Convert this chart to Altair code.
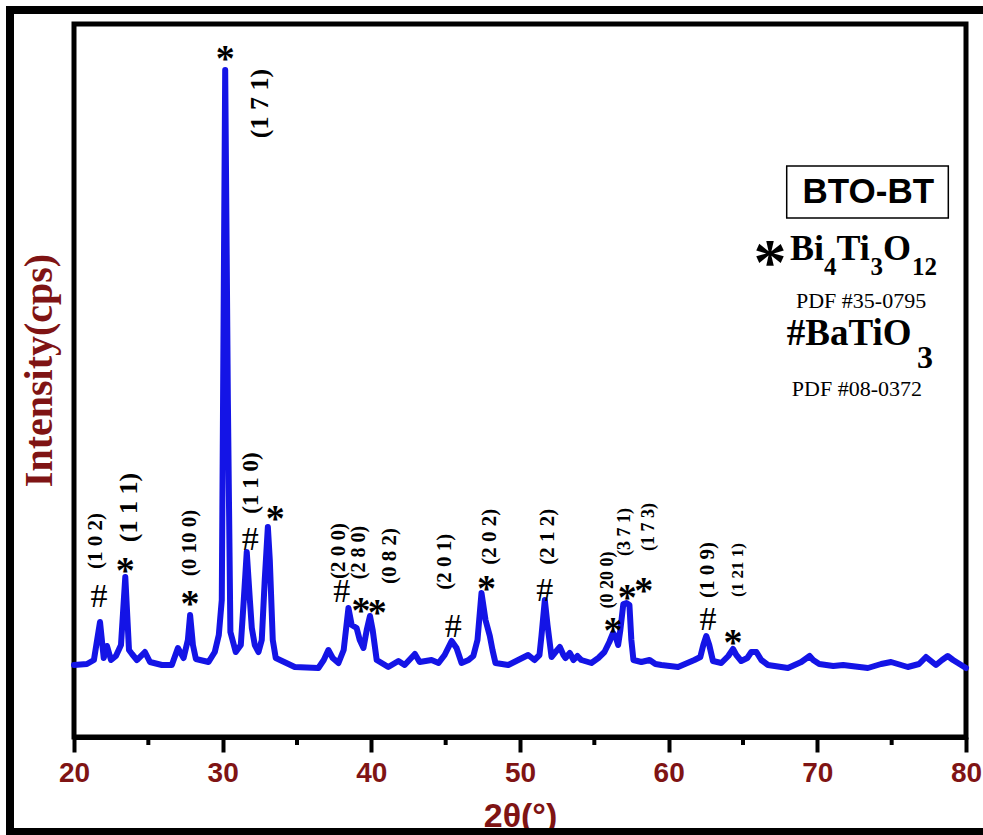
import altair as alt
import pandas as pd

# ---------------- data ----------------
two_theta = [20.00, 20.87, 21.34, 21.75, 22.00, 22.22, 22.49, 22.82, 23.16, 23.45,
             23.70, 23.90, 24.23, 24.77, 25.11, 25.91, 26.58, 26.99, 27.37, 27.66,
             27.81, 28.00, 28.20, 29.05, 29.47, 29.74, 29.94, 30.17, 30.35, 30.52,
             30.88, 31.22, 31.42, 31.62, 31.83, 31.96, 32.16, 32.41, 32.63, 32.83,
             33.04, 33.17, 33.37, 33.57, 34.85, 36.44, 36.80, 37.11, 37.40, 37.79,
             38.14, 38.46, 38.68, 39.01, 39.22, 39.47, 39.69, 39.91, 40.09, 40.36,
             41.14, 41.82, 42.24, 42.93, 43.25, 44.05, 44.52, 44.93, 45.40, 45.73,
             46.07, 46.54, 46.86, 47.14, 47.41, 47.68, 47.97, 48.15, 48.35, 49.21,
             49.88, 50.55, 50.97, 51.31, 51.45, 51.67, 51.85, 52.12, 52.39, 52.68,
             52.92, 53.06, 53.35, 53.60, 53.86, 54.13, 54.80, 55.27, 55.68, 56.01,
             56.26, 56.42, 56.60, 56.75, 56.95, 57.16, 57.36, 57.49, 57.63, 58.16,
             58.72, 59.11, 59.51, 60.63, 61.73, 62.13, 62.33, 62.53, 62.73, 62.98,
             63.54, 64.01, 64.33, 64.55, 64.88, 65.29, 65.56, 65.90, 66.23, 66.68,
             68.02, 68.92, 69.48, 69.72, 70.13, 71.07, 71.74, 72.28, 73.40, 74.29,
             74.96, 76.08, 76.84, 77.31, 77.98, 78.39, 78.77, 79.13, 79.89, 80.00]
intensity = [970, 980, 1020, 1400, 1040, 1160, 1020, 1060, 1170, 1850,
             1120, 1080, 1020, 1100, 1000, 970, 970, 1140, 1040, 1220,
             1470, 1170, 1030, 1000, 1100, 1270, 1620, 6920, 3620, 1300,
             1100, 1170, 1620, 2100, 1620, 1340, 1170, 1100, 1220, 1820,
             2350, 2020, 1220, 1040, 950, 940, 1020, 1120, 1040, 990,
             1120, 1540, 1370, 1340, 1220, 1140, 1320, 1460, 1320, 1020,
             950, 1010, 970, 1080, 1000, 1020, 990, 1070, 1210, 1140,
             990, 1020, 1060, 1220, 1690, 1420, 1260, 1120, 990, 970,
             1020, 1070, 1020, 1070, 1270, 1620, 1370, 1050, 1100, 1150,
             1070, 1040, 1090, 1020, 1060, 1020, 990, 1040, 1100, 1200,
             1290, 1260, 1170, 1320, 1580, 1590, 1570, 1220, 1020, 1000,
             1020, 980, 970, 950, 1020, 1050, 1170, 1260, 1170, 1010,
             990, 1060, 1130, 1070, 1010, 1040, 1100, 1100, 1020, 970,
             940, 1000, 1060, 1020, 980, 960, 970, 960, 940, 980,
             1000, 950, 980, 1050, 970, 1020, 1060, 1020, 950, 940]

# BaTiO3 peak markers (#)
hash_x = [21.68, 31.85, 38.01, 45.51, 51.67, 62.64]
hash_y = [1670, 2240, 1720, 1370, 1730, 1440]
# Bi4Ti3O12 peak markers (*)
star_x = [23.45, 27.81, 30.17, 33.53, 39.30, 40.40, 47.75, 56.26, 57.22, 58.32, 64.33]
star_y = [1970, 1640, 7090, 2490, 1570, 1550, 1790, 1370, 1700, 1770, 1250]

# Miller-index labels
hkl_text = ["(1 0 2)", "(1 1 1)", "(0 10 0)", "(1 1 0)", "(1 7 1)", "(2 0 0)",
            "(2 8 0)", "(0 8 2)", "(2 0 1)", "(2 0 2)", "(2 1 2)", "(0 20 0)",
            "(3 7 1)", "(1 7 3)", "(1 0 9)", "(1 21 1)"]
hkl_x = [21.50, 23.67, 27.81, 31.93, 32.52, 37.81, 39.18, 41.25, 44.95, 47.97,
         51.90, 55.95, 57.04, 58.70, 62.64, 64.66]
hkl_y = [2210, 2545, 2190, 2790, 6585, 2110, 2095, 2060, 2003, 2253,
         2253, 1820, 2300, 2350, 1920, 1920]

x_ticks = [20, 30, 40, 50, 60, 70, 80]
x_minor = [25, 35, 45, 55, 65, 75]

# ---------------- styling ----------------
RED = "#7f1414"
BLUE = "#1414e6"
SERIF = "Liberation Serif"
SANS = "Liberation Sans"
W, H = 892, 713
XS = alt.Scale(domain=[20, 80], nice=False, zero=False)
YS = alt.Scale(domain=[250, 7380], nice=False, zero=False)

label_size = {"(1 1 1)": 26, "(1 7 1)": 26, "(1 1 0)": 23,
              "(0 20 0)": 18, "(3 7 1)": 18, "(1 7 3)": 18, "(1 21 1)": 17, "(2 8 0)": 20}


def X(**kw):
    return alt.X("two_theta:Q", scale=XS, **kw)


def Y(**kw):
    return alt.Y("intensity:Q", scale=YS, **kw)


curve = pd.DataFrame({"two_theta": two_theta, "intensity": intensity})

line = alt.Chart(curve).mark_line(color=BLUE, strokeWidth=6, strokeJoin="round",
                                  strokeCap="round").encode(
    x=X(axis=alt.Axis(values=x_ticks, format="d", grid=False,
                      tickSize=15, tickWidth=4, tickColor="black",
                      domainColor="black", domainWidth=5,
                      labelFont=SANS, labelFontWeight="bold", labelFontSize=28,
                      labelColor=RED, labelPadding=7, labelFlush=False,
                      title="2θ(°)", titleFont=SANS, titleFontWeight="bold",
                      titleFontSize=34, titleColor=RED,
                      titleBaseline="alphabetic", titleY=89)),
    y=Y(axis=alt.Axis(labels=False, ticks=False, domain=False, grid=False,
                      title="Intensity(cps)", titleFont=SERIF,
                      titleFontWeight="bold", titleFontSize=40, titleColor=RED,
                      titleAngle=-90, titleAlign="center",
                      titleBaseline="middle", titleX=-35, titleY=346)),
)

minor = alt.Chart(pd.DataFrame({"two_theta": x_minor})).mark_rule(
    color="black", strokeWidth=4).encode(
    x=X(), y=alt.value(H), y2=alt.value(H + 8))

hashes = alt.Chart(pd.DataFrame({"two_theta": hash_x, "intensity": hash_y,
                                 "s": ["#"] * len(hash_x)})).mark_text(
    font=SERIF, fontSize=34, color="black", baseline="alphabetic", dy=12).encode(
    x=X(), y=Y(), text="s:N")

stars = alt.Chart(pd.DataFrame({"two_theta": star_x, "intensity": star_y,
                                "s": ["*"] * len(star_x)})).mark_text(
    font=SERIF, fontWeight="bold", fontSize=38, color="black", baseline="alphabetic", dy=18).encode(
    x=X(), y=Y(), text="s:N")

hkl = pd.DataFrame({"two_theta": hkl_x, "intensity": hkl_y, "t": hkl_text,
                    "fs": [label_size.get(h, 21) for h in hkl_text]})
labels = alt.Chart(hkl).mark_text(
    font=SERIF, fontWeight="bold", color="black", angle=270,
    align="center", baseline="middle").encode(
    x=X(), y=Y(), text="t:N", size=alt.Size("fs:Q", scale=None, legend=None))

# ---------------- legend (in data coordinates) ----------------
box = alt.Chart(pd.DataFrame({"two_theta": [67.94], "x2": [78.81],
                              "intensity": [5960], "y2": [5440]})).mark_rect(
    fillOpacity=0, stroke="black", strokeWidth=1.5).encode(
    x=X(), x2="x2:Q", y=Y(), y2="y2:Q")


def txt(xs, ys, ts, **kw):
    df = pd.DataFrame({"two_theta": xs, "intensity": ys, "t": ts})
    return alt.Chart(df).mark_text(color="black", **kw).encode(x=X(), y=Y(), text="t:N")


bto = txt([73.43], [5697], ["BTO-BT"], font=SANS, fontWeight="bold",
          fontSize=35, align="center", baseline="middle")
leg_star = txt([66.82], [5090], ["*"], font=SERIF, fontWeight="bold",
               fontSize=66, align="center", baseline="alphabetic", dy=31)
bit_main = txt([68.16, 71.29, 74.42], [5020] * 3, ["Bi", "Ti", "O"],
               font=SERIF, fontWeight="bold", fontSize=36, align="left", baseline="alphabetic")
bit_sub = txt([70.45, 73.57, 76.37], [4870] * 3, ["4", "3", "12"],
              font=SERIF, fontWeight="bold", fontSize=25, align="left", baseline="alphabetic")
pdf = txt([72.94, 72.66], [4610, 3730], ["PDF #35-0795", "PDF #08-0372"],
          font=SERIF, fontSize=22, align="center", baseline="middle")
bt_main = txt([67.94], [4170], ["#BaTiO"], font=SERIF, fontWeight="bold",
              fontSize=37, align="left", baseline="alphabetic")
bt_sub = txt([76.70], [3940], ["3"], font=SERIF, fontWeight="bold",
             fontSize=32, align="left", baseline="alphabetic")

# outer picture frame (decoration around the whole figure)
frame = alt.Chart(pd.DataFrame({"k": [0]})).mark_rect(
    fillOpacity=0, stroke="black", strokeWidth=8).encode(
    x=alt.value(-64), x2=alt.value(W + 80), y=alt.value(-14), y2=alt.value(H + 95))

chart = alt.layer(line, minor, hashes, stars, labels, box, bto, leg_star, bit_main, bit_sub,
                  pdf, bt_main, bt_sub, frame).properties(
    width=W, height=H,
    padding={"left": 74, "top": 24, "right": 17, "bottom": 98},
    autosize=alt.AutoSizeParams(type="none"),
    background="white",
).configure_view(stroke="black", strokeWidth=5)

chart.save("out.html", embed_options={"renderer": "svg", "actions": False})
